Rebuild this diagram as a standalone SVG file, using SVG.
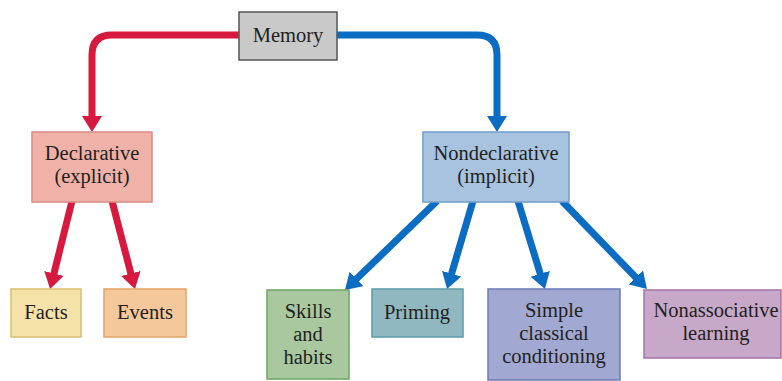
<svg xmlns="http://www.w3.org/2000/svg" width="782" height="381" viewBox="0 0 782 381">
<style>
.t{font-family:"Liberation Serif","Times New Roman",serif;font-size:20.5px;fill:#231f20;text-anchor:middle}
.box{stroke-width:1.5}
.red{fill:none;stroke:#d7193f;stroke-width:7}
.blue{fill:none;stroke:#0a6cc2;stroke-width:7}
</style>
<defs>
<marker id="ar" markerUnits="userSpaceOnUse" viewBox="0 0 16 20" refX="6" refY="10" markerWidth="16" markerHeight="20" orient="auto"><path d="M0,0 L16,10 L0,20 z" fill="#d7193f"/></marker>
<marker id="ab" markerUnits="userSpaceOnUse" viewBox="0 0 16 20" refX="6" refY="10" markerWidth="16" markerHeight="20" orient="auto"><path d="M0,0 L16,10 L0,20 z" fill="#0a6cc2"/></marker>
</defs>
<rect width="782" height="381" fill="#ffffff"/>
<g id="connectors">
<path class="red" d="M239,35 H112 Q92,35 92,55 V122" marker-end="url(#ar)"/>
<path class="blue" d="M337,35 H477 Q497,35 497,55 V122" marker-end="url(#ab)"/>
<path class="red" d="M72,201 L52.5,279.3" marker-end="url(#ar)"/>
<path class="red" d="M112,201 L132.4,279.3" marker-end="url(#ar)"/>
<path class="blue" d="M437,201 L352.2,283.1" marker-end="url(#ab)"/>
<path class="blue" d="M473,201 L449.9,279.4" marker-end="url(#ab)"/>
<path class="blue" d="M518,201 L542,279.5" marker-end="url(#ab)"/>
<path class="blue" d="M562,201 L640,281.8" marker-end="url(#ab)"/>
</g>
<g id="memory"><rect class="box" x="239" y="12" width="98" height="48" fill="#c9c9c9" stroke="#555555"/><text class="t" x="288" y="42">Memory</text></g>
<g id="declarative"><rect class="box" x="32" y="132" width="120" height="70" fill="#f0b1a8" stroke="#d98a84"/><text class="t" x="92" y="160">Declarative</text><text class="t" x="92" y="183">(explicit)</text></g>
<g id="nondeclarative"><rect class="box" x="423" y="132" width="146" height="70" fill="#a7c3df" stroke="#6f9ecb"/><text class="t" x="496" y="160">Nondeclarative</text><text class="t" x="496" y="183">(implicit)</text></g>
<g id="facts"><rect class="box" x="11" y="289" width="70" height="48" fill="#f4e2a8" stroke="#dcc070"/><text class="t" x="46" y="319">Facts</text></g>
<g id="events"><rect class="box" x="104" y="289" width="82" height="48" fill="#f5c89b" stroke="#e4a466"/><text class="t" x="145" y="319">Events</text></g>
<g id="skills"><rect class="box" x="267" y="290" width="82" height="89" fill="#a9c8a0" stroke="#6ea463"/><text class="t" x="308" y="318">Skills</text><text class="t" x="308" y="341">and</text><text class="t" x="308" y="364">habits</text></g>
<g id="priming"><rect class="box" x="372" y="289" width="91" height="48" fill="#91b8c0" stroke="#5d9aa8"/><text class="t" x="417" y="319">Priming</text></g>
<g id="simple"><rect class="box" x="488" y="289" width="132" height="91" fill="#a1a8d1" stroke="#6b79b8"/><text class="t" x="554" y="317">Simple</text><text class="t" x="554" y="340">classical</text><text class="t" x="554" y="363">conditioning</text></g>
<g id="nonassociative"><rect class="box" x="644" y="290" width="137" height="68" fill="#c8a8c8" stroke="#a474a4"/><text class="t" x="716" y="317">Nonassociative</text><text class="t" x="716" y="340">learning</text></g>
</svg>
